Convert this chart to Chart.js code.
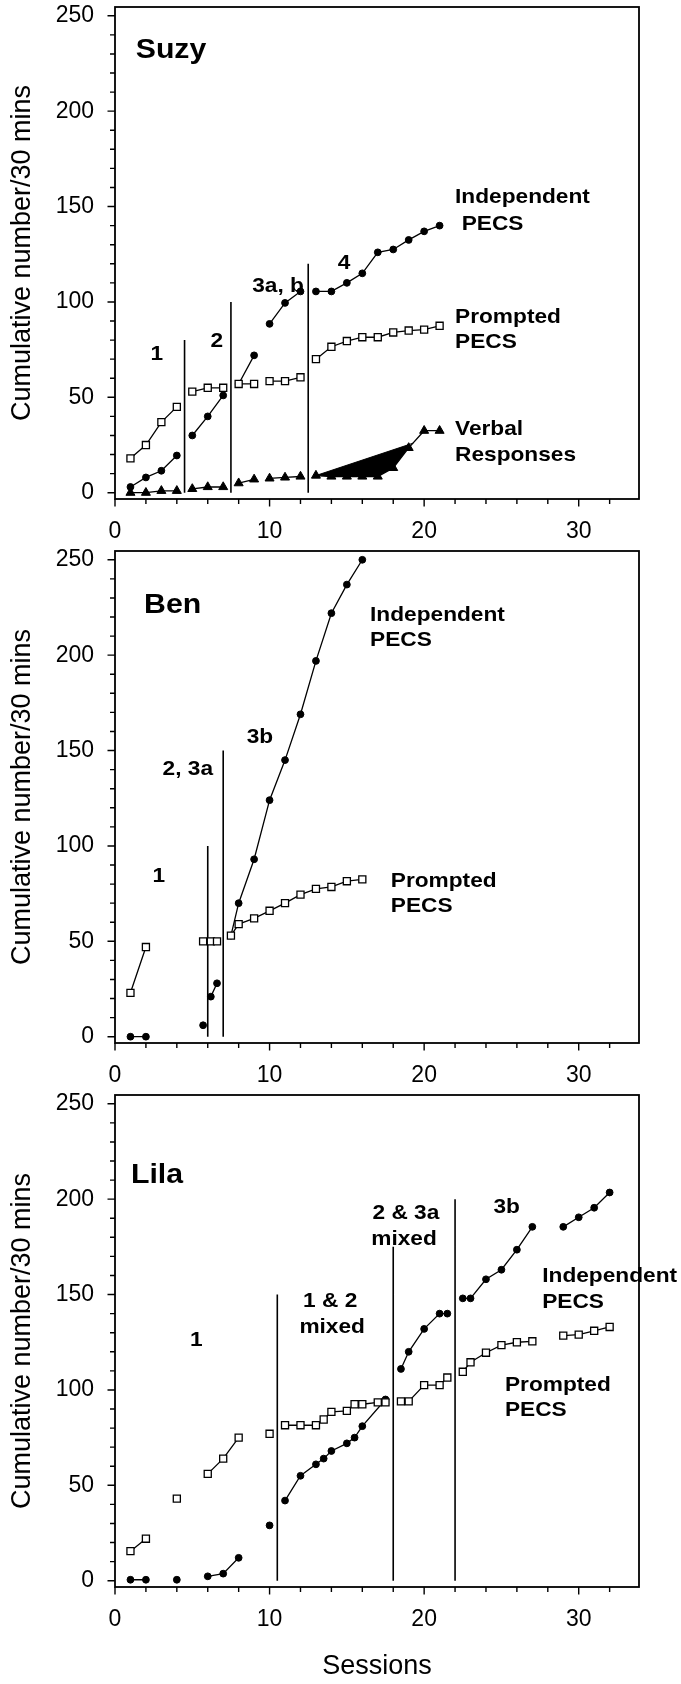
<!DOCTYPE html>
<html>
<head>
<meta charset="utf-8">
<script src="https://cdn.jsdelivr.net/npm/chart.js@4.4.1/dist/chart.umd.min.js"></script>
<style>
  body { margin: 0; background: #fff; }
  canvas { display: block; }
</style>
</head>
<body>
<canvas id="suzy" width="681" height="544"></canvas>
<canvas id="ben" width="681" height="544"></canvas>
<canvas id="lila" width="681" height="596"></canvas>
<script>
// null value = line break (phase change or missed session)
const suzySessions = [1, 2, 3, 4, 4.5, 5, 6, 7, 7.5, 8, 9, 9.5, 10, 11, 12, 12.5, 13, 14, 15, 16, 17, 18, 19, 20, 21]
const suzyIndependent = [3, 8, 11.5, 19.5, null, 30, 40, 51, null, 57, 72, null, 88.5, 99.5, 105.5, null, 105.5, 105.5, 110, 115, 126, 127.5, 132.5, 137, 140]
const suzyPrompted = [18, 25, 37, 45, null, 53, 55, 55, null, 57, 57, null, 58.5, 58.5, 60.5, null, 70, 76.5, 79.5, 81.5, 81.5, 84, 85, 85.5, 87.5]
const suzyVerbal = [0, 0, 1, 1, null, 2, 3, 3, null, 5, 7, null, 7.5, 8, 8.5, null, 9, 8.5, 8.5, 8.5, 8.5, 13, 23.5, 32.5, 32.5]
// the black wedge under the verbal line
const suzyWedgeSessions = [13, 14, 15, 16, 17, 18, 19]
const suzyWedge = [9, 8.5, 8.5, 8.5, 8.5, 13, 23.5]
const suzyWedgeEdgeSessions = [13, 19.3]
const suzyWedgeEdge = [9, 26]
const suzyPhases = [4.5, 7.5, 12.5]
const suzyPhaseTops = [80, 100, 120]

const benSessions = [1, 2, 3, 5.7, 6, 6.2, 6.6, 7, 7.5, 8, 9, 10, 11, 12, 13, 14, 15, 16]
const benIndependent = [0, 0, null, 6, null, 21, 28, null, 53, 70, 93, 124, 145, 169, 197, 222, 237, 250]
const benPrompted = [23, 47, null, 50, null, 50, 50, null, 53, 59, 62, 66, 70, 74.5, 77.5, 78.5, 81.5, 82.5]
const benPhases = [6, 7]
const benPhaseTops = [100, 150]

const lilaIndependentSessions = [1, 2, 3, 4, 5, 6, 7, 8, 9, 10, 10.5, 11, 12, 13, 13.5, 14, 15, 15.5, 16, 17.5, 18, 18.5, 19, 20, 21, 21.5, 22, 22.5, 23, 24, 25, 26, 27, 28, 29, 30, 31, 32]
const lilaIndependent = [0.5, 0.5, null, 0.5, null, 2.3, 3.7, 12, null, 29, null, 42, 55, 61, 64, 68, 72, 75, 81, 95, null, 111, 120, 132, 140, 140, null, 148, 148, 158, 163, 173.5, 185.5, null, 185.5, 190.5, 195.5, 203.5]
const lilaPromptedSessions = [1, 2, 3, 4, 5, 6, 7, 8, 9, 10, 10.5, 11, 12, 13, 13.5, 14, 15, 15.5, 16, 17, 17.5, 18, 18.5, 19, 20, 21, 21.5, 22, 22.5, 23, 24, 25, 26, 27, 28, 29, 30, 31, 32]
const lilaPrompted = [15.5, 22, null, 43, null, 56, 64, 75, null, 77, null, 81.5, 81.5, 81.5, 84.5, 88.5, 89, 92.5, 92.5, 93.5, 93.5, null, 94, 94, 102.5, 102.5, 106.5, null, 109.5, 114.5, 119.5, 123.5, 125, 125.5, null, 128.5, 129, 131, 133]
const lilaPhases = [10.5, 18, 22]
const lilaPhaseTops = [150, 175, 200]

const xTickValues = [0, 2, 4, 6, 8, 10, 12, 14, 16, 18, 20, 22, 24, 26, 28, 30, 32]
const yTickValues = [0, 10, 20, 30, 40, 50, 60, 70, 80, 90, 100, 110, 120, 130, 140, 150, 160, 170, 180, 190, 200, 210, 220, 230, 240, 250]

Chart.defaults.font.family = '"Liberation Sans", Arial, sans-serif'
Chart.defaults.color = '#000'

const pts = (xs, ys) => xs.map((x, i) => ({ x, y: ys[i] }))

function phaseLines(xs, tops) {
  const out = []
  xs.forEach((x, i) => out.push({ x, y: 0 }, { x, y: tops[i] }, { x, y: null }))
  return out
}

const promptedSet = data => ({
  data, pointStyle: 'rect', pointRadius: 5, pointBackgroundColor: '#fff',
  pointBorderColor: '#000', pointBorderWidth: 1.3, borderColor: '#000', borderWidth: 1.3
})
const independentSet = data => ({
  data, pointStyle: 'circle', pointRadius: 3.4, pointBackgroundColor: '#000',
  pointBorderColor: '#000', pointBorderWidth: 1, borderColor: '#000', borderWidth: 1.3
})
const verbalSet = data => ({
  data, pointStyle: 'triangle', pointRadius: 5.2, pointBackgroundColor: '#000',
  pointBorderColor: '#000', pointBorderWidth: 1, borderColor: '#000', borderWidth: 1.3
})
const phaseSet = data => ({ data, pointRadius: 0, borderColor: '#000', borderWidth: 1.6 })

// box round the plot area and the outside tick marks
const frameAndTicks = {
  id: 'frameAndTicks',
  afterDraw(chart) {
    const { ctx, chartArea: a, scales: { x, y } } = chart
    ctx.save()
    ctx.strokeStyle = '#000'
    ctx.lineWidth = 1.8
    ctx.strokeRect(a.left, a.top, a.right - a.left, a.bottom - a.top)
    ctx.lineWidth = 1.4
    ctx.beginPath()
    y.ticks.forEach(t => {
      const py = y.getPixelForValue(t.value)
      const len = t.value % 50 === 0 ? 7.5 : 5
      ctx.moveTo(a.left - len, py)
      ctx.lineTo(a.left, py)
    })
    x.ticks.forEach(t => {
      const px = x.getPixelForValue(t.value)
      const len = t.value % 10 === 0 ? 7.5 : 5
      ctx.moveTo(px, a.bottom)
      ctx.lineTo(px, a.bottom + len)
    })
    ctx.stroke()
    ctx.restore()
  }
}

// bold labels placed in data units
const notes = {
  id: 'notes',
  afterDatasetsDraw(chart, args, opts) {
    const { ctx, scales: { x, y } } = chart
    ctx.save()
    ctx.fillStyle = '#000'
    ctx.textBaseline = 'alphabetic'
    opts.items.forEach(n => {
      ctx.font = 'bold ' + n.size + 'px "Liberation Sans", Arial, sans-serif'
      const w = ctx.measureText(n.text).width * 1.08
      let px = x.getPixelForValue(n.x)
      if (n.align === 'center') px -= w / 2
      ctx.save()
      ctx.translate(px, y.getPixelForValue(n.y))
      ctx.scale(1.08, 1)
      ctx.fillText(n.text, 0, 0)
      ctx.restore()
    })
    ctx.restore()
  }
}

function panel(id, datasets, items, xAxisHeight, xTitle) {
  return new Chart(document.getElementById(id), {
    type: 'line',
    data: { datasets },
    options: {
      responsive: false,
      animation: false,
      layout: { padding: { top: 7, right: 42, left: 0, bottom: 0 } },
      elements: { line: { tension: 0 } },
      plugins: { legend: { display: false }, tooltip: { enabled: false }, notes: { items } },
      scales: {
        x: {
          type: 'linear', min: 0, max: 33.9,
          afterBuildTicks: s => { s.ticks = xTickValues.map(v => ({ value: v })) },
          afterFit: s => { s.height = xAxisHeight; s.paddingLeft = 0; s.paddingRight = 0 },
          grid: { display: false, drawTicks: false },
          border: { display: false },
          ticks: { padding: 19, autoSkip: false, maxRotation: 0, font: { size: 23 },
            callback: v => v % 10 === 0 ? String(v) : '' },
          title: { display: !!xTitle, text: xTitle || '', font: { size: 27 }, padding: { top: 0, bottom: 1 } }
        },
        y: {
          type: 'linear', min: -3.3, max: 254.6,
          afterBuildTicks: s => { s.ticks = yTickValues.map(v => ({ value: v })) },
          afterFit: s => { s.width = 115; s.paddingTop = 0; s.paddingBottom = 0 },
          grid: { display: false, drawTicks: false },
          border: { display: false },
          ticks: { padding: 21, autoSkip: false, font: { size: 23 },
            callback: v => v % 50 === 0 ? String(v) : '' },
          title: { display: true, text: 'Cumulative number/30 mins', font: { size: 27 }, padding: { top: 6, bottom: 0 } }
        }
      }
    },
    plugins: [frameAndTicks, notes]
  })
}

panel('suzy', [
  promptedSet(pts(suzySessions, suzyPrompted)),
  independentSet(pts(suzySessions, suzyIndependent)),
  verbalSet(pts(suzySessions, suzyVerbal)),
  phaseSet(phaseLines(suzyPhases, suzyPhaseTops)),
  { data: pts(suzyWedgeSessions, suzyWedge), pointRadius: 0, borderWidth: 0, backgroundColor: '#000', fill: 5 },
  { data: pts(suzyWedgeEdgeSessions, suzyWedgeEdge), pointRadius: 0, borderColor: '#000', borderWidth: 1 }
], [
  { text: 'Suzy', x: 1.34, y: 227.7, size: 28 },
  { text: '1', x: 2.7, y: 69.6, size: 21, align: 'center' },
  { text: '2', x: 6.58, y: 76.5, size: 21, align: 'center' },
  { text: '3a, b', x: 10.55, y: 105.2, size: 21, align: 'center' },
  { text: '4', x: 14.82, y: 117.3, size: 21, align: 'center' },
  { text: 'Independent', x: 22.0, y: 151.7, size: 21 },
  { text: 'PECS', x: 22.43, y: 137.7, size: 21 },
  { text: 'Prompted', x: 22.0, y: 89.1, size: 21 },
  { text: 'PECS', x: 22.0, y: 75.7, size: 21 },
  { text: 'Verbal', x: 22.0, y: 30.2, size: 21 },
  { text: 'Responses', x: 22.0, y: 16.8, size: 21 }
], 45)

panel('ben', [
  promptedSet(pts(benSessions, benPrompted)),
  independentSet(pts(benSessions, benIndependent)),
  phaseSet(phaseLines(benPhases, benPhaseTops))
], [
  { text: 'Ben', x: 1.88, y: 222.1, size: 28 },
  { text: '1', x: 2.83, y: 81.1, size: 21, align: 'center' },
  { text: '2, 3a', x: 4.71, y: 137.2, size: 21, align: 'center' },
  { text: '3b', x: 9.38, y: 154, size: 21, align: 'center' },
  { text: 'Independent', x: 16.5, y: 218.1, size: 21 },
  { text: 'PECS', x: 16.5, y: 204.8, size: 21 },
  { text: 'Prompted', x: 17.84, y: 78.3, size: 21 },
  { text: 'PECS', x: 17.84, y: 65.4, size: 21 }
], 45)

panel('lila', [
  promptedSet(pts(lilaPromptedSessions, lilaPrompted)),
  independentSet(pts(lilaIndependentSessions, lilaIndependent)),
  phaseSet(phaseLines(lilaPhases, lilaPhaseTops))
], [
  { text: 'Lila', x: 1.03, y: 208.7, size: 28 },
  { text: '1', x: 5.26, y: 122.8, size: 21, align: 'center' },
  { text: '1 & 2', x: 13.92, y: 143.6, size: 21, align: 'center' },
  { text: 'mixed', x: 14.05, y: 130.1, size: 21, align: 'center' },
  { text: '2 & 3a', x: 18.82, y: 189.5, size: 21, align: 'center' },
  { text: 'mixed', x: 18.7, y: 176, size: 21, align: 'center' },
  { text: '3b', x: 25.34, y: 192.6, size: 21, align: 'center' },
  { text: 'Independent', x: 27.64, y: 156.7, size: 21 },
  { text: 'PECS', x: 27.64, y: 143.1, size: 21 },
  { text: 'Prompted', x: 25.23, y: 99.6, size: 21 },
  { text: 'PECS', x: 25.23, y: 86.3, size: 21 }
], 97, 'Sessions')
</script>
</body>
</html>
